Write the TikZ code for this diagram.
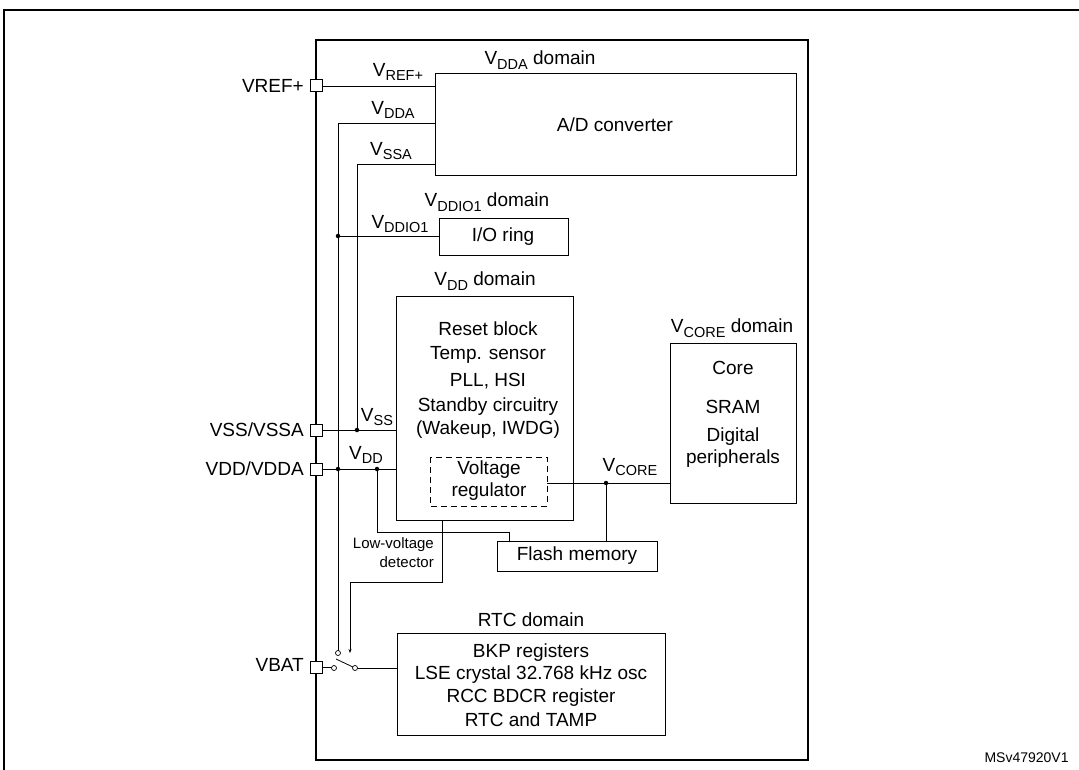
\documentclass[tikz,border=0pt]{standalone}
\usepackage{fontspec}
\setmainfont{Liberation Sans}
\usetikzlibrary{arrows.meta}
\newcommand{\vsub}[1]{V\raisebox{-0.45ex}{\fontsize{14.5}{14}\selectfont #1}}
\begin{document}
\begin{tikzpicture}[x=1pt,y=-1pt,
  txt/.style={font=\fontsize{19}{22}\selectfont, inner sep=0pt},
  small/.style={font=\fontsize{15}{19}\selectfont, inner sep=0pt, align=right},
  box/.style={draw, line width=0.9pt},
  wire/.style={line width=0.8pt},
  pin/.style={draw, fill=white, line width=1pt, minimum size=12pt, inner sep=0pt},
  dot/.style={circle, fill, inner sep=0pt, minimum size=4.5pt},
  oc/.style={circle, draw, fill=white, inner sep=0pt, minimum size=5pt, line width=0.7pt}]
\useasboundingbox (0,0) rectangle (1079,770);
\begin{scope}
\clip (0,0) rectangle (1079,770);
\draw[line width=1.6pt] (4,10) rectangle (1090,790);
\node[font=\fontsize{14}{16}\selectfont, anchor=west] (ms) at (981,758) {MSv47920V1};
\end{scope}
% chip
\draw[line width=1.4pt] (316,40) rectangle (808,760);
% boxes
\draw[box] (435,73) rectangle (796,175);
\node[txt] (adc) at (615,125) {A/D converter};
\node[txt] (ladc) at (540,60) {\vsub{DDA} domain};
\draw[box] (439,218) rectangle (568,255);
\node[txt] (io) at (503,237) {I/O ring};
\node[txt] (lio) at (487,202) {\vsub{DDIO1} domain};
\draw[box] (396,296) rectangle (573,520);
\node[txt] (lvdd) at (485,281) {\vsub{DD} domain};
\node[txt] at (488,329) {Reset block};
\node[txt] at (488,355) {Temp. sensor};
\node[txt] at (488,381) {PLL, HSI};
\node[txt] at (488,407) {Standby circuitry};
\node[txt] at (488,430) {(Wakeup, IWDG)};
\draw[box, dash pattern=on 6pt off 4pt] (430,457) rectangle (547,506);
\node[txt, align=center] (vr) at (489,481) {Voltage\\regulator};
\draw[box] (670,343) rectangle (796,503);
\node[txt] (lcore) at (732,328) {\vsub{CORE} domain};
\node[txt] at (733,368) {Core};
\node[txt] at (733,407) {SRAM};
\node[txt, align=center] at (733,448) {Digital\\peripherals};
\draw[box] (497,541) rectangle (657,571);
\node[txt] (fl) at (577,556) {Flash memory};
\draw[box] (397,633) rectangle (665,735);
\node[txt] (lrtc) at (531,620) {RTC domain};
\node[txt] at (531,653) {BKP registers};
\node[txt] at (531,675) {LSE crystal 32.768 kHz osc};
\node[txt] at (531,698) {RCC BDCR register};
\node[txt] at (531,720) {RTC and TAMP};
% wires
\draw[wire] (316,86) -- (435,86);
\node[txt] at (398,72) {\vsub{REF+}};
\draw[wire] (338,652) -- (338,123) -- (435,123);
\node[txt] at (393,110) {\vsub{DDA}};
\draw[wire] (357,430) -- (357,164) -- (435,164);
\node[txt] at (391,151) {\vsub{SSA}};
\draw[wire] (338,236) -- (439,236);
\node[txt] at (400,224) {\vsub{DDIO1}};
\node[dot] (d1) at (338,236) {};
\draw[wire] (316,430) -- (396,430);
\node[txt] at (377,417) {\vsub{SS}};
\node[dot] (d2) at (357,430) {};
\draw[wire] (316,469) -- (396,469);
\node[txt] at (366,455) {\vsub{DD}};
\node[dot] (d3) at (338,469) {};
\node[dot] (d4) at (377,469) {};
\draw[wire] (377,469) -- (377,532) -- (509,532) -- (509,541);
\draw[wire] (547,483) -- (670,483);
\node[dot] (d5) at (606,483) {};
\draw[wire] (606,483) -- (606,541);
\node[txt] at (630,467) {\vsub{CORE}};
\draw[wire] (442,520) -- (442,582) -- (350,582) -- (350,648);
\draw[-{Stealth[length=4pt,width=3pt]}, wire] (350,640) -- (350,653);
\node[small, anchor=east] at (434,553) {Low-voltage\\detector};
% switch
\draw[wire] (323,667) -- (334,667);
\draw[wire] (355,668) -- (397,668);
\draw[wire] (336,659) -- (355,668);
\node[oc] (s1) at (334,668) {};
\node[oc] (s2) at (355,668) {};
\node[oc] (s3) at (338,653) {};
% pins
\node[pin] (p1) at (316,86) {};
\node[pin] (p2) at (316,430) {};
\node[pin] (p3) at (316,469) {};
\node[pin] (p4) at (316,667) {};
\node[txt, anchor=east] at (304,86) {VREF+};
\node[txt, anchor=east] at (304,430) {VSS/VSSA};
\node[txt, anchor=east] at (304,469) {VDD/VDDA};
\node[txt, anchor=east] at (304,665) {VBAT};
\end{tikzpicture}
\end{document}
